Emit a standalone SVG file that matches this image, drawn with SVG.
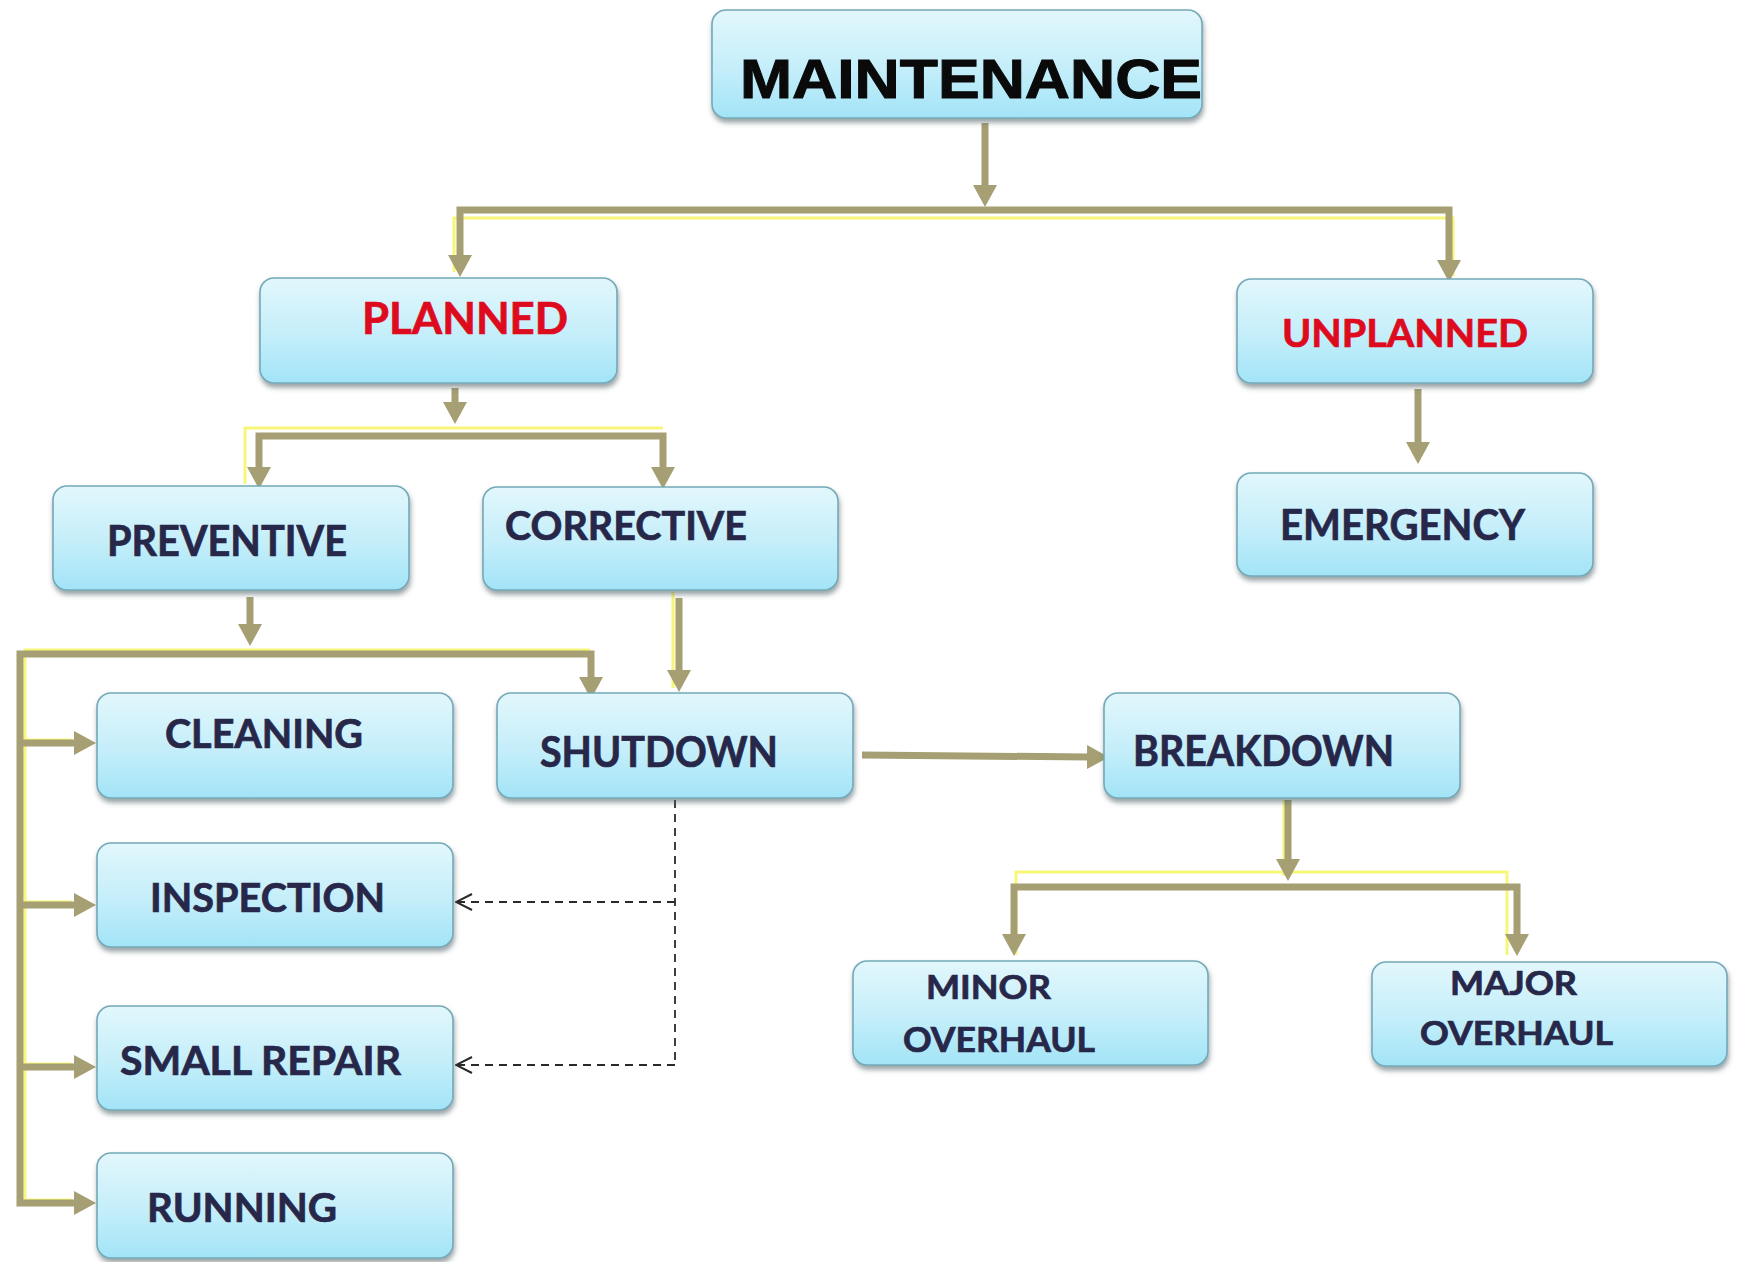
<svg xmlns="http://www.w3.org/2000/svg" width="1745" height="1262" viewBox="0 0 1745 1262">
  <defs>
    <linearGradient id="boxFill" x1="0" y1="0" x2="0" y2="1">
      <stop offset="0" stop-color="#e2f7fc"/>
      <stop offset="0.55" stop-color="#c4eefa"/>
      <stop offset="1" stop-color="#a2e4f7"/>
    </linearGradient>
    <filter id="shadow" x="-10%" y="-10%" width="120%" height="130%">
      <feDropShadow dx="1" dy="4" stdDeviation="2.5" flood-color="#4a5a60" flood-opacity="0.55"/>
    </filter>
    <marker id="head" viewBox="0 0 22 24" refX="1" refY="12" markerWidth="22" markerHeight="24" markerUnits="userSpaceOnUse" orient="auto-start-reverse">
      <path d="M0,0 L22,12 L0,24 Z" fill="#a59f73"/>
    </marker>
    <marker id="open" viewBox="0 0 18 18" refX="17" refY="9" markerWidth="18" markerHeight="18" markerUnits="userSpaceOnUse" orient="auto">
      <path d="M1,1 L17,9 L1,17" fill="none" stroke="#2a2a2a" stroke-width="2"/>
    </marker>
  </defs>
  <style>
    .box { fill: url(#boxFill); stroke: #74a9b8; stroke-width: 1.6; filter: url(#shadow); }
    .lbl { font-family: Lato, "Open Sans", "Liberation Sans", sans-serif; font-weight: 700; fill: #27274a; stroke: #27274a; stroke-width: 0.7; }
    .red { fill: #de0b1e; stroke: #de0b1e; }
    .title { font-family: "Liberation Sans", Arial, sans-serif; font-weight: 700; fill: #0a0a0a; stroke: #0a0a0a; stroke-width: 1; }
    .conn { fill: none; stroke: #a59f73; stroke-width: 7; stroke-linejoin: miter; }
    .glow { fill: none; stroke: #f6f56a; stroke-width: 3; opacity: 0.9; }
    .dash { fill: none; stroke: #2a2a2a; stroke-width: 1.8; stroke-dasharray: 8 6; }
  </style>

  <rect width="1745" height="1262" fill="#ffffff"/>

  <!-- yellow highlight strokes running beside the main connectors -->
  <g id="highlights">
    <path class="glow" d="M454,272 V218 H1453 V276"/>
    <path class="glow" d="M245,484 V428 H663"/>
    <path class="glow" d="M25,1200 V650 H590"/>
    <path class="glow" d="M673,592 V688"/>
    <path class="glow" d="M1016,955 V872 H1507 V955"/>
    <path class="glow" d="M1284,800 V876"/>
    <path class="glow" d="M25,740 H72 M25,902 H72 M25,1064 H72 M25,1200 H72"/>
  </g>

  <!-- connectors -->
  <g id="connectors">
    <path class="conn" d="M985,123 V186" marker-end="url(#head)"/>
    <path class="conn" d="M460,256 V210 H1449 V261" marker-start="url(#head)" marker-end="url(#head)"/>
    <path class="conn" d="M1418,389 V443" marker-end="url(#head)"/>
    <path class="conn" d="M455,388 V403" marker-end="url(#head)"/>
    <path class="conn" d="M259,468 V436 H663 V468" marker-start="url(#head)" marker-end="url(#head)"/>
    <path class="conn" d="M250,597 V625" marker-end="url(#head)"/>
    <path class="conn" d="M591,678 V654 H20 V1203 H75" marker-start="url(#head)" marker-end="url(#head)"/>
    <path class="conn" d="M20,743 H75" marker-end="url(#head)"/>
    <path class="conn" d="M20,905 H75" marker-end="url(#head)"/>
    <path class="conn" d="M20,1067 H75" marker-end="url(#head)"/>
    <path class="conn" d="M679,598 V671" marker-end="url(#head)"/>
    <path class="conn" d="M862,755 L1088,757" marker-end="url(#head)"/>
    <path class="conn" d="M1288,800 V860" marker-end="url(#head)"/>
    <path class="conn" d="M1014,935 V887 H1517 V935" marker-start="url(#head)" marker-end="url(#head)"/>
    <path class="dash" d="M675,800 V1066"/>
    <path class="dash" d="M675,902 H456" marker-end="url(#open)"/>
    <path class="dash" d="M675,1065 H456" marker-end="url(#open)"/>
  </g>

  <g id="maintenance">
    <rect class="box" x="712" y="10" width="490" height="108" rx="14"/>
    <text class="title" x="740" y="98" font-size="56" textLength="462" lengthAdjust="spacingAndGlyphs">MAINTENANCE</text>
  </g>
  <g id="planned">
    <rect class="box" x="260" y="278" width="357" height="105" rx="14"/>
    <text class="lbl red" x="362" y="334" font-size="44" textLength="206" lengthAdjust="spacingAndGlyphs">PLANNED</text>
  </g>
  <g id="unplanned">
    <rect class="box" x="1237" y="279" width="356" height="104" rx="14"/>
    <text class="lbl red" x="1282" y="347" font-size="39" textLength="246" lengthAdjust="spacingAndGlyphs">UNPLANNED</text>
  </g>
  <g id="emergency">
    <rect class="box" x="1237" y="473" width="356" height="103" rx="14"/>
    <text class="lbl" x="1280" y="540" font-size="42" textLength="245" lengthAdjust="spacingAndGlyphs">EMERGENCY</text>
  </g>
  <g id="preventive">
    <rect class="box" x="53" y="486" width="356" height="104" rx="14"/>
    <text class="lbl" x="107" y="556" font-size="42" textLength="240" lengthAdjust="spacingAndGlyphs">PREVENTIVE</text>
  </g>
  <g id="corrective">
    <rect class="box" x="483" y="487" width="355" height="103" rx="14"/>
    <text class="lbl" x="505" y="540" font-size="40" textLength="242" lengthAdjust="spacingAndGlyphs">CORRECTIVE</text>
  </g>
  <g id="cleaning">
    <rect class="box" x="97" y="693" width="356" height="105" rx="14"/>
    <text class="lbl" x="165" y="748" font-size="40" textLength="198" lengthAdjust="spacingAndGlyphs">CLEANING</text>
  </g>
  <g id="shutdown">
    <rect class="box" x="497" y="693" width="356" height="105" rx="14"/>
    <text class="lbl" x="540" y="767" font-size="42" textLength="238" lengthAdjust="spacingAndGlyphs">SHUTDOWN</text>
  </g>
  <g id="breakdown">
    <rect class="box" x="1104" y="693" width="356" height="105" rx="14"/>
    <text class="lbl" x="1133" y="766" font-size="42" textLength="261" lengthAdjust="spacingAndGlyphs">BREAKDOWN</text>
  </g>
  <g id="inspection">
    <rect class="box" x="97" y="843" width="356" height="104" rx="14"/>
    <text class="lbl" x="150" y="912" font-size="41" textLength="235" lengthAdjust="spacingAndGlyphs">INSPECTION</text>
  </g>
  <g id="small-repair">
    <rect class="box" x="97" y="1006" width="356" height="104" rx="14"/>
    <text class="lbl" x="120" y="1075" font-size="41" textLength="281" lengthAdjust="spacingAndGlyphs">SMALL REPAIR</text>
  </g>
  <g id="running">
    <rect class="box" x="97" y="1153" width="356" height="105" rx="14"/>
    <text class="lbl" x="147" y="1222" font-size="41" textLength="190" lengthAdjust="spacingAndGlyphs">RUNNING</text>
  </g>
  <g id="minor-overhaul">
    <rect class="box" x="853" y="961" width="355" height="104" rx="14"/>
    <text class="lbl" x="926" y="999" font-size="33" textLength="125" lengthAdjust="spacingAndGlyphs">MINOR</text>
    <text class="lbl" x="903" y="1052" font-size="34" textLength="192" lengthAdjust="spacingAndGlyphs">OVERHAUL</text>
  </g>
  <g id="major-overhaul">
    <rect class="box" x="1372" y="962" width="355" height="104" rx="14"/>
    <text class="lbl" x="1450" y="995" font-size="32" textLength="127" lengthAdjust="spacingAndGlyphs">MAJOR</text>
    <text class="lbl" x="1420" y="1045" font-size="32" textLength="193" lengthAdjust="spacingAndGlyphs">OVERHAUL</text>
  </g>
</svg>
